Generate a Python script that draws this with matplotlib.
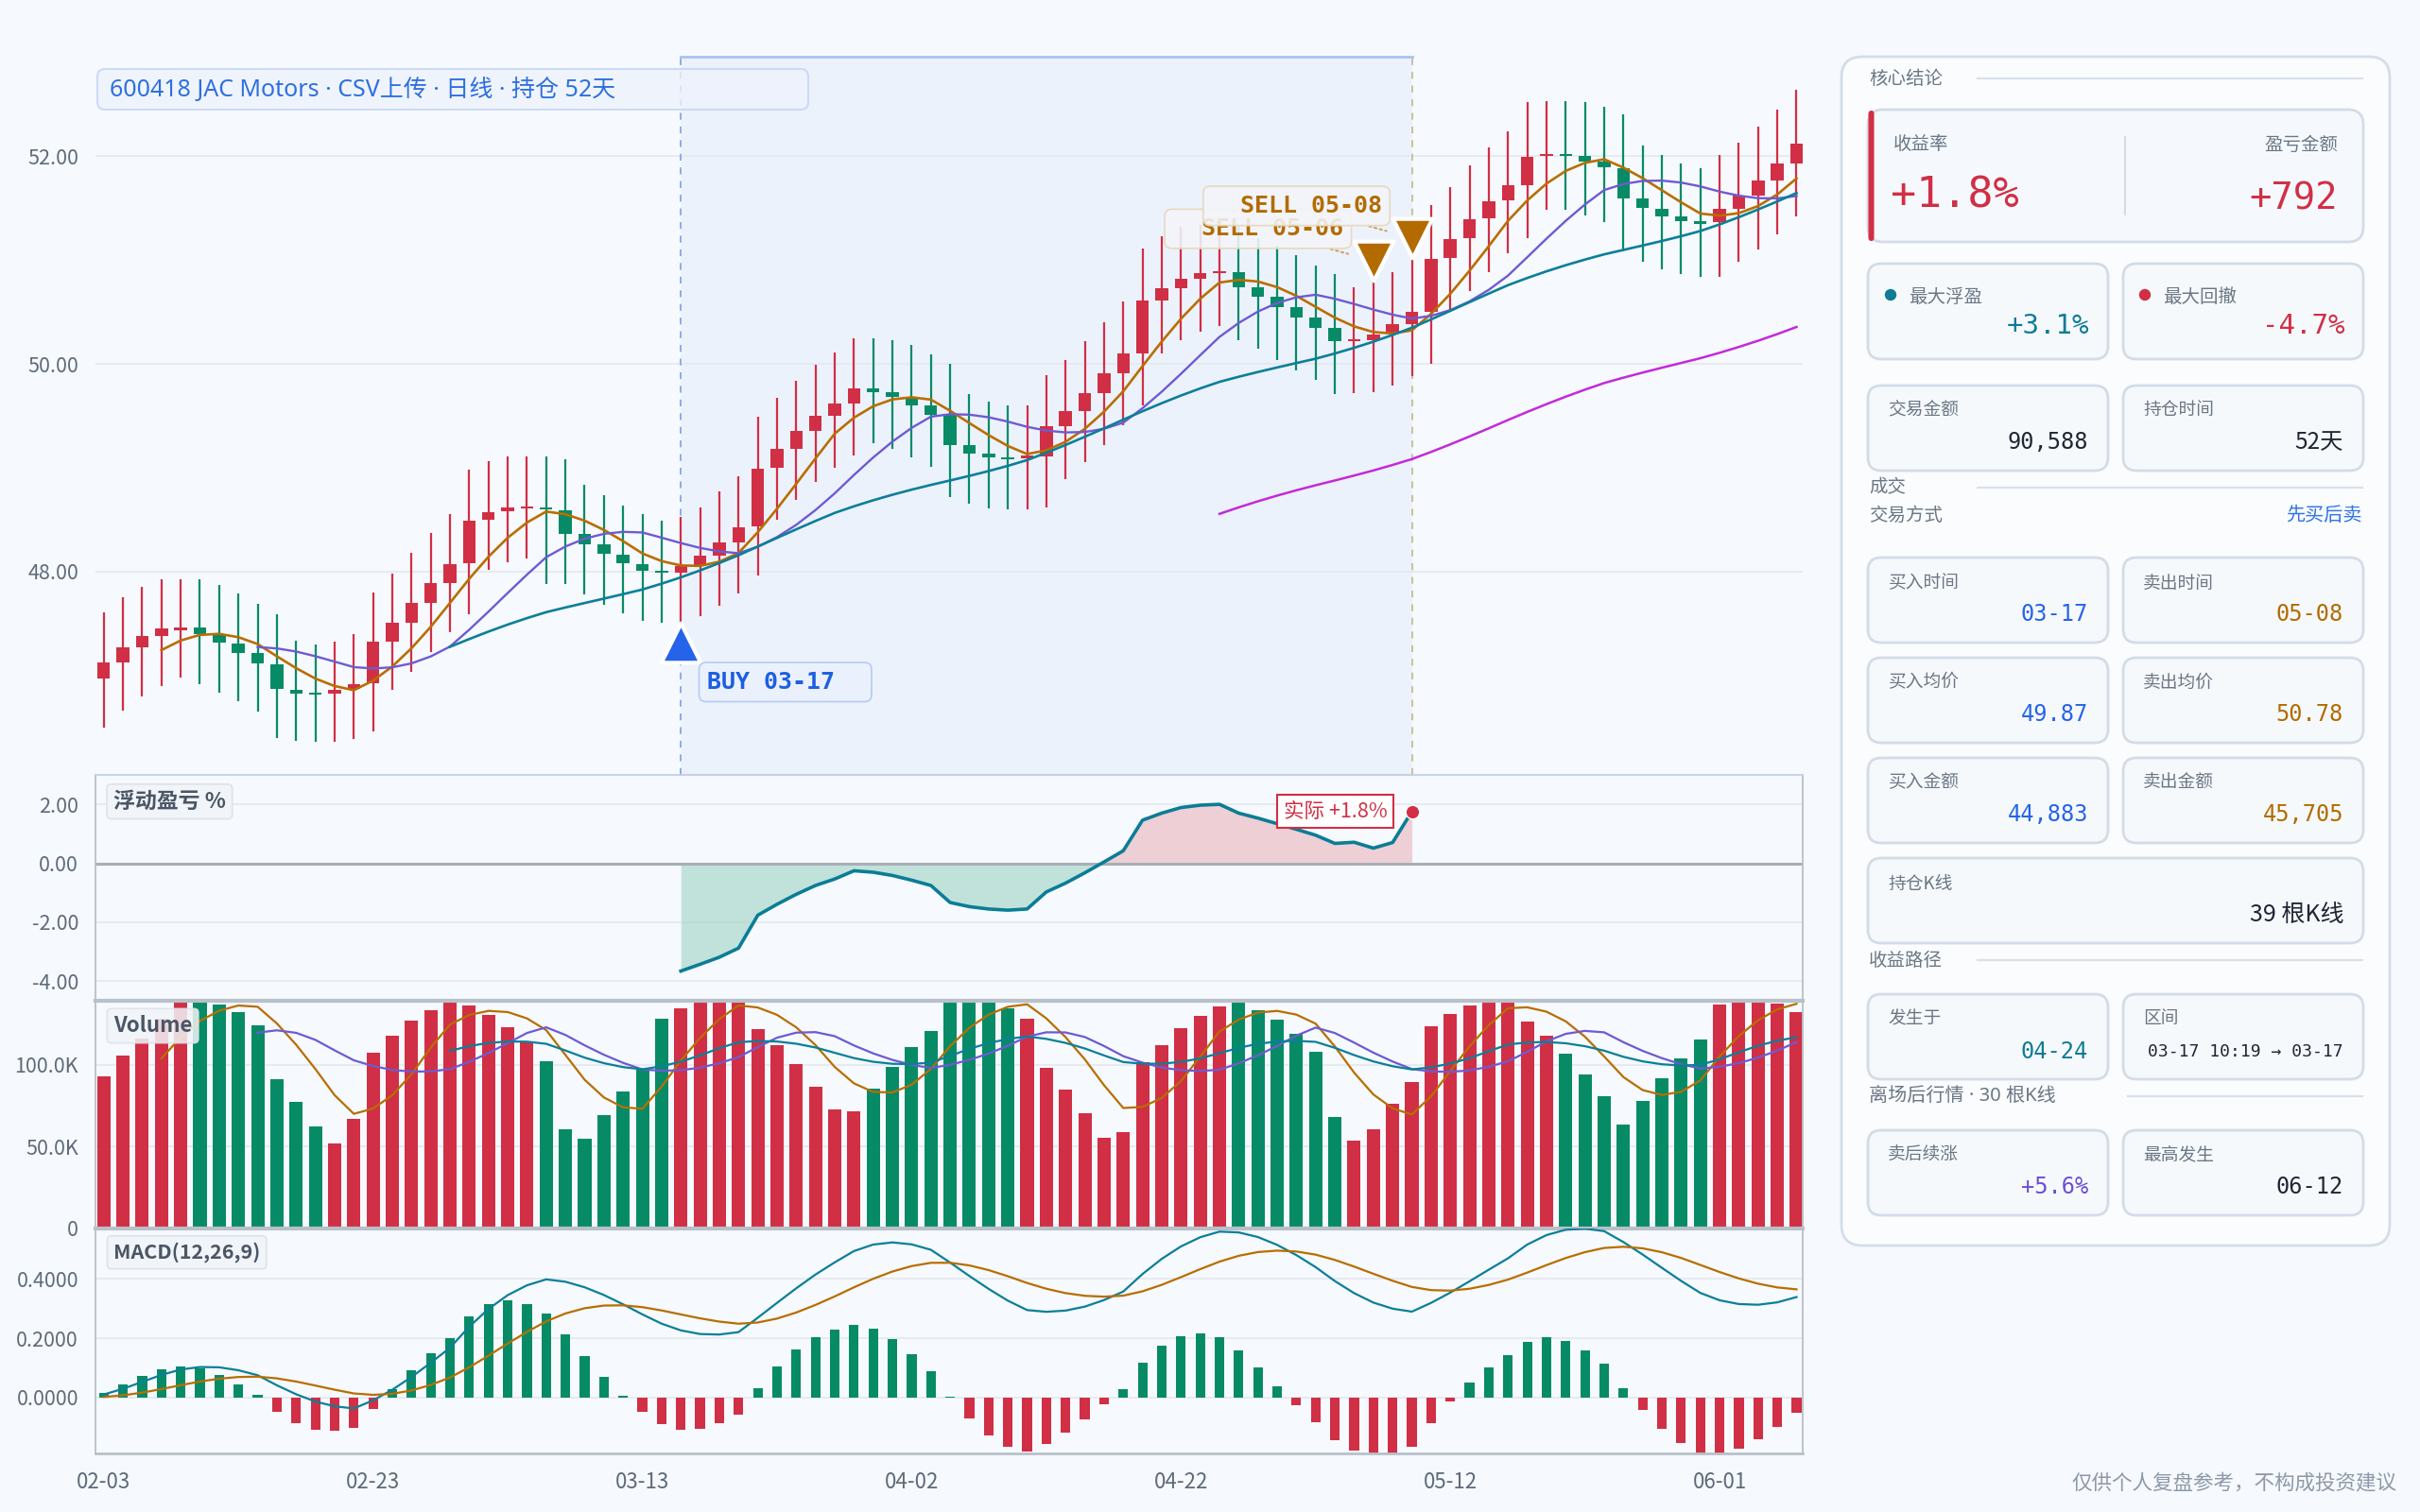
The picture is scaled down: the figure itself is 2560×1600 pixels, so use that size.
import numpy as np
import pandas as pd
import matplotlib
matplotlib.use("Agg")
import matplotlib.pyplot as plt
from matplotlib.patches import FancyBboxPatch, Rectangle, Circle
from matplotlib.ticker import FuncFormatter

plt.rcParams['font.family'] = ['Noto Sans CJK SC', 'DejaVu Sans']
MONO = ['DejaVu Sans Mono']
MIXED = ['Noto Sans', 'Noto Sans CJK SC']   # narrow middle dot, CJK falls through

# ---- data ----
opens = [46.97, 47.13, 47.27, 47.38, 47.44, 47.46, 47.39, 47.31, 47.22, 47.11,
         46.86, 46.83, 46.83, 46.87, 46.93, 47.33, 47.51, 47.70, 47.89, 48.08,
         48.50, 48.58, 48.61, 48.62, 48.59, 48.36, 48.26, 48.16, 48.07, 48.01,
         47.99, 48.06, 48.15, 48.28, 48.44, 49.00, 49.18, 49.35, 49.50, 49.62,
         49.76, 49.73, 49.68, 49.60, 49.51, 49.22, 49.14, 49.10, 49.09, 49.11,
         49.40, 49.55, 49.72, 49.91, 50.10, 50.61, 50.73, 50.82, 50.87, 50.88,
         50.74, 50.65, 50.55, 50.45, 50.35, 50.22, 50.23, 50.29, 50.38, 50.50,
         51.02, 51.21, 51.40, 51.57, 51.72, 52.00, 52.01, 52.00, 51.95, 51.88,
         51.59, 51.49, 51.42, 51.37, 51.36, 51.49, 51.62, 51.76, 51.93]
closes = [47.13, 47.27, 47.38, 47.45, 47.46, 47.40, 47.32, 47.22, 47.12, 46.87,
          46.83, 46.82, 46.86, 46.92, 47.33, 47.51, 47.70, 47.89, 48.07, 48.49,
          48.57, 48.615, 48.62, 48.60, 48.36, 48.26, 48.17, 48.08, 48.01, 47.99,
          48.05, 48.15, 48.28, 48.43, 48.99, 49.18, 49.35, 49.50, 49.62, 49.76,
          49.73, 49.68, 49.60, 49.51, 49.22, 49.14, 49.10, 49.08, 49.12, 49.40,
          49.55, 49.72, 49.91, 50.10, 50.61, 50.73, 50.82, 50.87, 50.88, 50.74,
          50.65, 50.55, 50.45, 50.35, 50.22, 50.23, 50.28, 50.38, 50.50, 51.01,
          51.20, 51.39, 51.56, 51.72, 51.99, 52.01, 52.00, 51.95, 51.89, 51.59,
          51.50, 51.42, 51.37, 51.35, 51.49, 51.62, 51.76, 51.93, 52.12]
highs = [47.61, 47.75, 47.85, 47.93, 47.93, 47.93, 47.87, 47.79, 47.69, 47.59,
         47.34, 47.30, 47.33, 47.40, 47.80, 47.98, 48.18, 48.37, 48.55, 48.98,
         49.06, 49.11, 49.11, 49.11, 49.08, 48.84, 48.74, 48.64, 48.55, 48.49,
         48.53, 48.62, 48.77, 48.92, 49.49, 49.67, 49.84, 49.99, 50.11, 50.25,
         50.25, 50.23, 50.18, 50.09, 50.00, 49.71, 49.64, 49.60, 49.60, 49.89,
         50.04, 50.22, 50.40, 50.60, 51.11, 51.23, 51.32, 51.34, 51.34, 51.34,
         51.21, 51.14, 51.05, 50.95, 50.86, 50.74, 50.79, 50.88, 51.01, 51.53,
         51.70, 51.91, 52.08, 52.24, 52.52, 52.53, 52.53, 52.52, 52.47, 52.40,
         52.10, 52.01, 51.93, 51.88, 52.01, 52.13, 52.28, 52.45, 52.64]
lows = [46.50, 46.66, 46.80, 46.90, 46.98, 46.92, 46.84, 46.75, 46.65, 46.40,
        46.37, 46.36, 46.36, 46.39, 46.46, 46.86, 47.04, 47.23, 47.42, 47.59,
        48.02, 48.09, 48.13, 47.88, 47.88, 47.78, 47.68, 47.60, 47.53, 47.51,
        47.51, 47.57, 47.67, 47.79, 47.96, 48.50, 48.69, 48.86, 49.00, 49.12,
        49.24, 49.18, 49.10, 49.01, 48.72, 48.65, 48.61, 48.60, 48.60, 48.62,
        48.89, 49.05, 49.22, 49.41, 49.60, 50.10, 50.23, 50.31, 50.36, 50.23,
        50.15, 50.04, 49.94, 49.85, 49.71, 49.72, 49.73, 49.79, 49.88, 50.00,
        50.52, 50.70, 50.88, 51.06, 51.21, 51.48, 51.48, 51.43, 51.36, 51.08,
        50.98, 50.91, 50.86, 50.84, 50.84, 50.98, 51.10, 51.25, 51.42]
volumes = [92600, 105300, 116000, 128000, 142000, 142000, 136600, 131900, 124200, 91000,
           77200, 62500, 52100, 67100, 107100, 117900, 126700, 133100, 137700, 136200,
           130400, 123100, 113800, 102000, 60400, 54600, 69100, 83700, 97600, 127900,
           134100, 138300, 141000, 139500, 121500, 111700, 100100, 86800, 72900, 71400,
           85500, 98600, 110500, 120700, 141000, 142000, 138300, 134600, 128300, 98000,
           84700, 70600, 55600, 58800, 101300, 112100, 122100, 130000, 135600, 137700,
           133500, 127300, 118600, 108000, 68100, 53600, 60800, 76000, 89500, 123500,
           130800, 136000, 141000, 141000, 126200, 117500, 106500, 94100, 80600, 63300,
           77900, 91600, 103800, 115200, 136600, 140000, 140000, 137000, 132100]
prev_close = 47.0      # bar just before the visible window
prev_volume = 77000

pnl_pct = [-3.66, -3.43, -3.19, -2.88, -1.76, -1.39, -1.05, -0.75, -0.53, -0.25,
           -0.30, -0.41, -0.57, -0.75, -1.33, -1.47, -1.55, -1.59, -1.55, -0.97,
           -0.67, -0.32, 0.05, 0.43, 1.47, 1.71, 1.90, 1.98, 2.01, 1.71,
           1.54, 1.35, 1.16, 0.96, 0.68, 0.72, 0.52, 0.71, 1.76]

tick_labels = ["02-03", "02-23", "03-13", "04-02", "04-22", "05-12", "06-01"]
tick_step = 14
buy_idx = 30
sell_idx = [66, 68]
buy_text = "BUY 03-17"
sell_texts = ["SELL 05-06", "SELL 05-08"]
actual_text = "实际 +1.8%"

# ---- colours ----
W, H = 2560, 1600
BG = "#f6f9fd"
RED = "#d12f45"
GREEN = "#078b67"
C_MA5 = "#b86e00"
C_MA10 = "#6e5ad2"
C_MA20 = "#0b7f99"
C_MA60 = "#c42ad8"
GRID = "#e3e8ef"
TICK = "#5f6b7a"
FRAME = "#b8c0c9"
BLUE = "#2563eb"
AMBER = "#b36b00"

# ---- derived series ----
n = len(closes)
x = np.arange(n)
o = np.array(opens)
c = np.array(closes)
up = c >= o
colors = np.where(up, RED, GREEN)

c_ext = pd.Series([prev_close] + closes)
ma = {k: c_ext.rolling(k).mean().values[1:] for k in (5, 10, 20, 60)}
v_ext = pd.Series([prev_volume] + volumes)
vma = {k: v_ext.rolling(k).mean().values[1:] for k in (5, 10, 20)}
dif_s = c_ext.ewm(span=12, adjust=False).mean() - c_ext.ewm(span=26, adjust=False).mean()
dea_s = dif_s.ewm(span=9, adjust=False).mean()
dif = dif_s.values[1:]
dea = dea_s.values[1:]
hist = 2 * (dif - dea)

fig = plt.figure(figsize=(W / 100, H / 100), dpi=100, facecolor=BG)


def add_px_axes(x0, y0, x1, y1, **kw):
    return fig.add_axes([x0 / W, 1 - y1 / H, (x1 - x0) / W, (y1 - y0) / H], **kw)


XL = (-0.43, 88.32)
ax_p = add_px_axes(101, 60, 1907, 820)
ax_r = add_px_axes(101, 820, 1907, 1059, sharex=ax_p)
ax_v = add_px_axes(101, 1059, 1907, 1300, sharex=ax_p)
ax_m = add_px_axes(101, 1300, 1907, 1538, sharex=ax_p)

for a in (ax_p, ax_r, ax_v, ax_m):
    a.set_facecolor('none')
    a.tick_params(axis='y', length=0, pad=13, labelsize=15.5, labelcolor=TICK)
    a.tick_params(axis='x', length=0, labelbottom=False)
    a.grid(axis='y', color=GRID, lw=1.2)
    a.set_axisbelow(True)
    for s in a.spines.values():
        s.set_color(FRAME)
        s.set_linewidth(1.3)
ax_p.set_xlim(*XL)

# ---- price panel ----
for s in ax_p.spines.values():
    s.set_visible(False)
PY = (46.045, 52.955)
ax_p.set_ylim(*PY)
ax_p.set_yticks([48, 50, 52])
ax_p.set_yticklabels(["48.00", "50.00", "52.00"])

hold_end = sell_idx[-1]
ax_p.add_patch(Rectangle((buy_idx, PY[0]), hold_end - buy_idx, PY[1] - PY[0],
                         fc="#e2eafc", alpha=0.45, ec='none', zorder=0))
ax_p.plot([buy_idx, hold_end], [PY[1], PY[1]], color="#a9c2f2", lw=2, zorder=1, clip_on=False)
ax_p.plot([buy_idx, hold_end], [PY[0], PY[0]], color="#c6d5f1", lw=1.5, zorder=1, clip_on=False)
ax_p.axvline(buy_idx, color="#86a7e6", ls=(0, (4, 4)), lw=1.3, zorder=1)
ax_p.axvline(hold_end, color="#cdb892", ls=(0, (4, 4)), lw=1.3, zorder=1)

ax_p.vlines(x, lows, highs, colors=colors, lw=1.6, zorder=3)
body = np.maximum(np.abs(c - o), 0.018)
ax_p.bar(x, body, bottom=np.minimum(o, c), width=0.66, color=colors, lw=0, zorder=4)

ax_p.plot(x, ma[5], color=C_MA5, lw=1.9, zorder=5)
ax_p.plot(x, ma[10], color=C_MA10, lw=1.7, zorder=5)
ax_p.plot(x, ma[20], color=C_MA20, lw=1.9, zorder=5)
ax_p.plot(x, ma[60], color=C_MA60, lw=1.8, zorder=5)

# trade markers
by = lows[buy_idx] - 0.19
ax_p.scatter([buy_idx], [by], marker='^', s=900, color=BLUE, edgecolors='white',
             linewidths=3, zorder=8)
ax_p.annotate(buy_text + "  ", xy=(buy_idx, by), xytext=(28, -42), textcoords='offset pixels',
              ha='left', va='center', fontsize=18, fontweight='bold', family=MONO, color="#1d5fe0",
              zorder=9, bbox=dict(boxstyle="round,pad=0.35,rounding_size=0.3", fc="#eaf1fd",
                                  ec="#b9cdf4", lw=1.3))
for i, (si, st) in enumerate(zip(sell_idx, sell_texts)):
    sy = highs[si] + 0.2
    ax_p.annotate("  " + st, xy=(si, sy), xytext=(-212, 34), textcoords='offset pixels',
                  ha='left', va='center', fontsize=18, fontweight='bold', family=MONO, color=AMBER,
                  zorder=9 + i * 2,
                  bbox=dict(boxstyle="round,pad=0.35,rounding_size=0.3", fc="#f3f5f9",
                            ec="#e6d8bc", lw=1.3, alpha=0.88),
                  arrowprops=dict(arrowstyle='-', ls=':', color="#cfa968", lw=1.6,
                                  shrinkA=0, shrinkB=20))
    ax_p.scatter([si], [sy], marker='v', s=900, color=AMBER, edgecolors='white',
                 linewidths=3, zorder=10 + i * 2)

# ---- floating P&L panel ----
PR = (-4.67, 3.01)
ax_r.set_ylim(*PR)
ax_r.set_yticks([2, 0, -2, -4])
ax_r.set_yticklabels(["2.00", "0.00", "-2.00", "-4.00"])
ax_r.spines['top'].set_color("#c4d1e8")
xr = np.arange(buy_idx, buy_idx + len(pnl_pct))
pr = np.array(pnl_pct)
ax_r.fill_between(xr, pr, 0, where=pr >= 0, interpolate=True, color="#e9b3bb", alpha=0.6, lw=0)
ax_r.fill_between(xr, pr, 0, where=pr <= 0, interpolate=True, color="#9fd3c3", alpha=0.6, lw=0)
ax_r.axhline(0, color="#a7afb8", lw=2.2, zorder=2)
ax_r.plot(xr, pr, color="#0b7d96", lw=2.6, zorder=4)
ax_r.scatter([xr[-1]], [pr[-1]], s=110, color=RED, zorder=6, edgecolors='white', linewidths=1)
ax_r.annotate(actual_text, xy=(xr[-1], pr[-1]), xytext=(-26, 0), textcoords='offset pixels',
              ha='right', va='center', fontsize=15.5, color=RED, zorder=7,
              bbox=dict(boxstyle="square,pad=0.3", fc="white", ec=RED, lw=1.5))
ax_r.text(0.0105, 0.882, "浮动盈亏 %", transform=ax_r.transAxes, ha='left', va='center',
          fontsize=16.5, fontweight='bold', color="#4b5665",
          bbox=dict(boxstyle="round,pad=0.3,rounding_size=0.2", fc="#f1f4f8", ec="#dde3ea", lw=1.2))

# ---- volume panel ----
ax_v.set_ylim(0, 139000)
ax_v.set_yticks([0, 50000, 100000])
ax_v.yaxis.set_major_formatter(FuncFormatter(lambda v, p: "0" if v == 0 else f"{v / 1000:.1f}K"))
ax_v.spines['top'].set_linewidth(3)
ax_v.spines['bottom'].set_linewidth(3)
ax_v.bar(x, volumes, width=0.69, color=colors, lw=0, zorder=2)
ax_v.plot(x, vma[5], color=C_MA5, lw=1.6, zorder=3)
ax_v.plot(x, vma[10], color=C_MA10, lw=1.6, zorder=3)
ax_v.plot(x, vma[20], color=C_MA20, lw=1.6, zorder=3)
ax_v.text(0.0105, 0.89, "Volume", transform=ax_v.transAxes, ha='left', va='center',
          fontsize=16, fontweight='bold', color="#4b5665", zorder=6,
          bbox=dict(boxstyle="round,pad=0.3,rounding_size=0.2", fc="#f1f4f8", ec="#dde3ea",
                    lw=1.2, alpha=0.85))

# ---- MACD panel ----
ax_m.set_ylim(-0.1885, 0.5705)
ax_m.set_yticks([0, 0.2, 0.4])
ax_m.set_yticklabels(["0.0000", "0.2000", "0.4000"])
ax_m.spines['top'].set_visible(False)
ax_m.spines['bottom'].set_linewidth(2)
ax_m.bar(x, hist, width=0.5, color=np.where(hist >= 0, GREEN, RED), lw=0, zorder=2)
ax_m.plot(x, dif, color=C_MA20, lw=1.6, zorder=3)
ax_m.plot(x, dea, color=C_MA5, lw=1.6, zorder=3)
ax_m.text(0.0105, 0.894, "MACD(12,26,9)", transform=ax_m.transAxes, ha='left', va='center',
          fontsize=15.5, fontweight='bold', color="#4b5665",
          bbox=dict(boxstyle="round,pad=0.3,rounding_size=0.2", fc="#f1f4f8", ec="#dde3ea", lw=1.2))
ax_m.set_xticks(np.arange(0, n, tick_step))
ax_m.set_xticklabels(tick_labels)
ax_m.tick_params(axis='x', labelbottom=True, labelsize=16, labelcolor=TICK, pad=14)

# ---- overlay: title box, side panel, footer (pixel coords) ----
ui = fig.add_axes([0, 0, 1, 1], zorder=10)
ui.set_xlim(0, W)
ui.set_ylim(H, 0)
ui.axis('off')
ui.patch.set_alpha(0)


def box(x0, y0, x1, y1, fc, ec, r=14, lw=2, alpha=1.0):
    ui.add_patch(FancyBboxPatch((x0, y0), x1 - x0, y1 - y0,
                                boxstyle=f"round,pad=0,rounding_size={r}",
                                fc=fc, ec=ec, lw=lw, alpha=alpha))


def txt(xp, yp, s, size, color, ha='left', mono=False, weight='normal', family=None):
    ui.text(xp, yp, s, fontsize=size, color=color, ha=ha, va='center',
            family=MONO if mono else family, fontweight=weight)


box(103, 73, 855, 116, "#eef3fc", "#c3d4f5", r=8, lw=1.5, alpha=0.8)
txt(116, 95, "600418 JAC Motors · CSV上传 · 日线 · 持仓 52天", 18, "#2f6fe0", family=MIXED)

LBL = "#6b7785"
DARK = "#1f2733"
CARD_FC = "#f6f9fc"
CARD_EC = "#d3dce6"
box(1948, 60, 2528, 1318, "#fafcfe", "#d4dde8", r=22, lw=2)


def section(yp, title, line_x0=2092, family=None, size=14):
    txt(1977, yp, title, size, LBL, family=family)
    ui.plot([line_x0, 2499], [yp, yp], color="#d9e1ea", lw=1.6)


section(83, "核心结论")
box(1976, 116, 2500, 256, "#f5f9fd", CARD_EC, r=16)
ui.add_patch(FancyBboxPatch((1976.5, 117), 6, 138, boxstyle="round,pad=0,rounding_size=3",
                            fc=RED, ec='none'))
ui.plot([2248, 2248], [145, 227], color="#d3dce6", lw=1.5)
txt(2003, 153, "收益率", 14, LBL)
txt(2473, 153, "盈亏金额", 14, LBL, ha='right')
txt(2000, 207, "+1.8%", 32.5, RED, mono=True)
txt(2473, 210, "+792", 28, RED, ha='right', mono=True)

L0, L1, R0, R1 = 1976, 2230, 2246, 2500


def pair_card(y0, y1, left, right, ly, vy):
    for (a, b), (lab, val, col, size, mono) in zip(((L0, L1), (R0, R1)), (left, right)):
        box(a, y0, b, y1, CARD_FC, CARD_EC)
        txt(a + 21, ly, lab, 13.5, LBL)
        txt(b - 21, vy, val, size, col, ha='right', mono=mono)


# row: max float profit / max drawdown
box(L0, 279, L1, 380, CARD_FC, CARD_EC)
box(R0, 279, R1, 380, CARD_FC, CARD_EC)
ui.add_patch(Circle((2000, 312), 5.5, color="#0e7c93"))
ui.add_patch(Circle((2269, 312), 5.5, color=RED))
txt(2019, 314, "最大浮盈", 14, LBL)
txt(2288, 314, "最大回撤", 14, LBL)
txt(2210, 345, "+3.1%", 21, "#0e7c93", ha='right', mono=True)
txt(2480, 345, "-4.7%", 21, RED, ha='right', mono=True)

pair_card(408, 498, ("交易金额", "90,588", DARK, 17, True), ("持仓时间", "52天", DARK, 17.5, False), 434, 468)

section(516, "成交")
txt(1977, 545, "交易方式", 14, LBL)
txt(2499, 545, "先买后卖", 14.5, "#2f74e6", ha='right')

pair_card(590, 680, ("买入时间", "03-17", BLUE, 17, True), ("卖出时间", "05-08", AMBER, 17, True), 617, 650)
pair_card(696, 786, ("买入均价", "49.87", BLUE, 17, True), ("卖出均价", "50.78", AMBER, 17, True), 722, 756)
pair_card(802, 892, ("买入金额", "44,883", BLUE, 17, True), ("卖出金额", "45,705", AMBER, 17, True), 828, 862)

box(L0, 908, R1, 998, CARD_FC, CARD_EC)
txt(1997, 935, "持仓K线", 13.5, LBL)
txt(2479, 968, "39 根K线", 18, DARK, ha='right')

section(1016, "收益路径")
pair_card(1052, 1142, ("发生于", "04-24", "#0e7c93", 17, True),
          ("区间", "03-17 10:19 → 03-17", DARK, 13, True), 1078, 1113)

section(1160, "离场后行情 · 30 根K线", line_x0=2251, family=MIXED, size=14.5)
pair_card(1196, 1286, ("卖后续涨", "+5.6%", "#6a4fd6", 17, True), ("最高发生", "06-12", DARK, 17, True),
          1222, 1256)

txt(2535, 1569, "仅供个人复盘参考，不构成投资建议", 15.5, "#8d99a8", ha='right')

fig.savefig("out.png", dpi=100, facecolor=BG)
